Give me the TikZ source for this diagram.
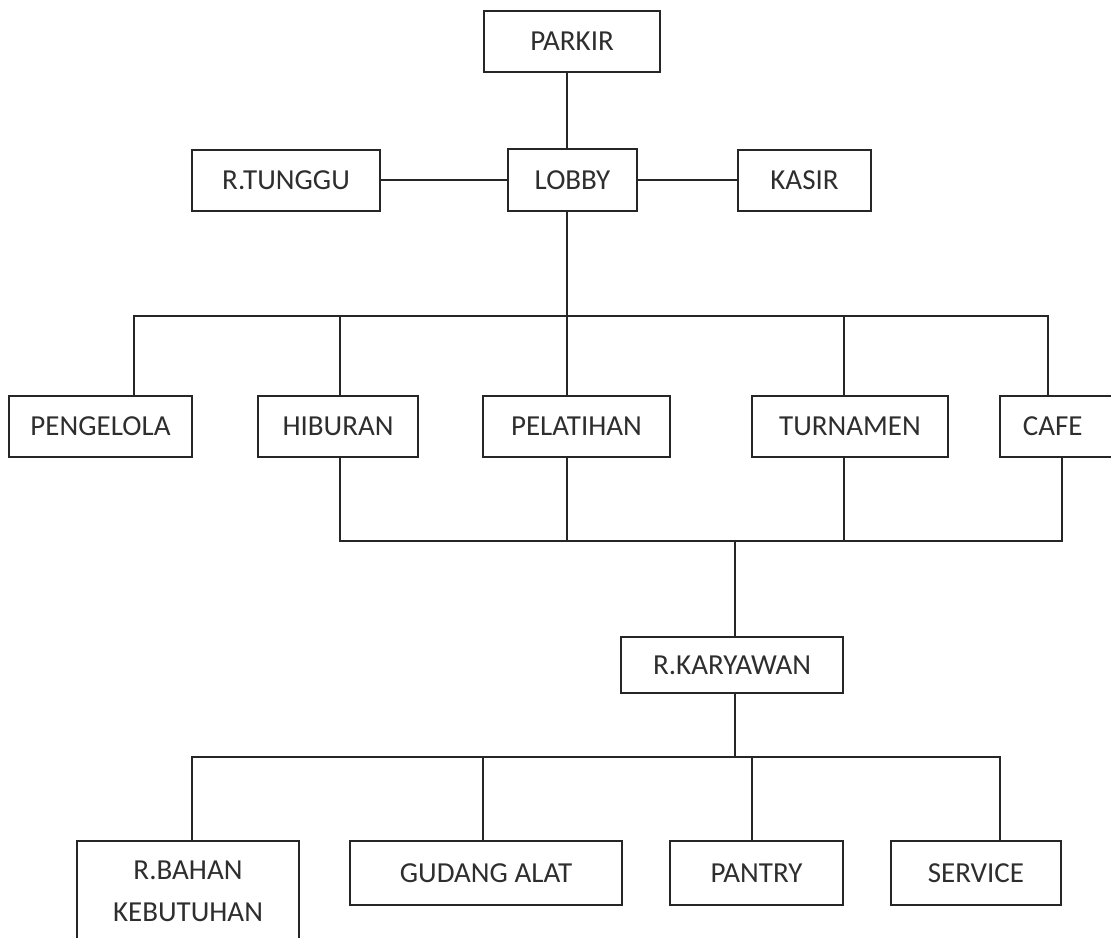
\documentclass[tikz,border=0pt]{standalone}
\usepackage{fontspec}
\setmainfont{Carlito}
\definecolor{linec}{HTML}{262626}
\definecolor{txtc}{HTML}{2E2E2E}
\begin{document}
\begin{tikzpicture}[x=1pt,y=-1pt,
  box/.style={draw=linec, line width=1.8pt, text=txtc, font=\fontsize{29}{42}\selectfont, inner sep=0pt, align=center},
  conn/.style={draw=linec, line width=1.8pt}]
\useasboundingbox (0,0) rectangle (1111,937);
\clip (0,0) rectangle (1111,937);
% nodes
\node[box, minimum width=176, minimum height=61] (parkir) at (572,41.5) {PARKIR};
\node[box, minimum width=188, minimum height=61] (tunggu) at (286,180.5) {R.TUNGGU};
\node[box, minimum width=129, minimum height=62] (lobby) at (572.5,180) {LOBBY};
\node[box, minimum width=133, minimum height=61] (kasir) at (804.5,180.5) {KASIR};
\node[box, minimum width=183, minimum height=61] (peng) at (100.5,426.5) {PENGELOLA};
\node[box, minimum width=160, minimum height=61] (hib) at (338,426.5) {HIBURAN};
\node[box, minimum width=187, minimum height=61] (pel) at (576.5,426.5) {PELATIHAN};
\node[box, minimum width=196, minimum height=61] (tur) at (850,426.5) {TURNAMEN};
\node[box, anchor=west, minimum height=61, inner xsep=23pt, text width=90pt, align=left] (cafe) at (999,426.5) {CAFE};
\node[box, minimum width=222, minimum height=56] (rk) at (732,665) {R.KARYAWAN};
\node[box, minimum width=222, minimum height=100] (rb) at (188,891) {R.BAHAN\\KEBUTUHAN};
\node[box, minimum width=272, minimum height=64] (gud) at (486,873) {GUDANG ALAT};
\node[box, minimum width=173, minimum height=64] (pan) at (756.5,873) {PANTRY};
\node[box, minimum width=170, minimum height=64] (ser) at (976,873) {SERVICE};
% bus coordinates
\coordinate (t1) at (567,0);
\coordinate (b1a) at (134,316);
\coordinate (b1b) at (340,316);
\coordinate (b1c) at (567,316);
\coordinate (b1d) at (844,316);
\coordinate (b1e) at (1048,316);
\coordinate (b2a) at (340,541);
\coordinate (b2b) at (567,541);
\coordinate (b2c) at (844,541);
\coordinate (b2d) at (735,541);
\coordinate (b2e) at (1062,541);
\coordinate (b3a) at (192,757);
\coordinate (b3b) at (483,757);
\coordinate (b3c) at (735,757);
\coordinate (b3d) at (752,757);
\coordinate (b3e) at (1000,757);
% top connectors
\draw[conn] (t1 |- parkir.south) -- (t1 |- lobby.north);
\draw[conn] (lobby.west) -- (lobby.west -| tunggu.east);
\draw[conn] (lobby.east) -- (lobby.east -| kasir.west);
\draw[conn] (t1 |- lobby.south) -- (b1c);
% bus 1
\draw[conn] (b1a |- peng.north) -- (b1a) -- (b1e) -- (b1e |- cafe.north);
\draw[conn] (b1b) -- (b1b |- hib.north);
\draw[conn] (b1c) -- (b1c |- pel.north);
\draw[conn] (b1d) -- (b1d |- tur.north);
% bus 2
\draw[conn] (b2a |- hib.south) -- (b2a) -- (b2e) -- (b2e |- cafe.south);
\draw[conn] (b2b |- pel.south) -- (b2b);
\draw[conn] (b2c |- tur.south) -- (b2c);
\draw[conn] (b2d) -- (b2d |- rk.north);
% bus 3
\draw[conn] (b3c |- rk.south) -- (b3c);
\draw[conn] (b3a |- rb.north) -- (b3a) -- (b3e) -- (b3e |- ser.north);
\draw[conn] (b3b) -- (b3b |- gud.north);
\draw[conn] (b3d) -- (b3d |- pan.north);
\end{tikzpicture}
\end{document}
